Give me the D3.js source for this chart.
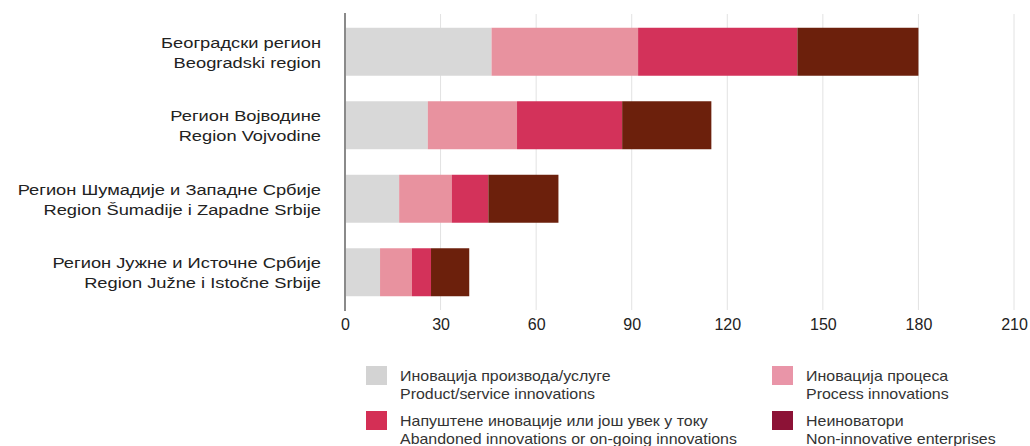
<!DOCTYPE html>
<html><head><meta charset="utf-8">
<script src="https://cdn.jsdelivr.net/npm/d3@7"></script>
<style>
body{margin:0;background:#fff;}
svg{display:block;font-family:"Liberation Sans",Arial,sans-serif;}
</style></head>
<body><svg id="c" width="1030" height="446"></svg>
<script>
const categoriesSr = ["Београдски регион","Регион Војводине","Регион Шумадије и Западне Србије","Регион Јужне и Источне Србије"];
const categoriesLat = ["Beogradski region","Region Vojvodine","Region Šumadije i Zapadne Srbije","Region Južne i Istočne Srbije"];
const productInnov = [46, 26, 17, 11];
const processInnov = [46, 28, 16.5, 10];
const abandonedInnov = [50, 33, 11.5, 6];
const nonInnov = [38, 28, 22, 12];
const tickValues = [0, 30, 60, 90, 120, 150, 180, 210];
const seriesNamesSr = ["Иновација производа/услуге","Иновација процеса","Напуштене иновације или још увек у току","Неиноватори"];
const seriesNamesEn = ["Product/service innovations","Process innovations","Abandoned innovations or on-going innovations","Non-innovative enterprises"];
const barColors = ["#d8d8d8","#e8929f","#d3325a","#6c200c"];
const legendColors = ["#d3d3d3","#e995a8","#d42f55","#8c1236"];

const svg = d3.select("#c");
const x = d3.scaleLinear().domain([0,210]).range([345,1014]);
const y = d3.scaleBand().domain(d3.range(categoriesSr.length)).range([15,309]).paddingInner(0.347).paddingOuter(0.1735);

// gridlines
svg.append("g").selectAll("line").data(tickValues.slice(1)).join("line")
  .attr("x1",d=>x(d)).attr("x2",d=>x(d)).attr("y1",14).attr("y2",310)
  .attr("stroke","#e2e2e2").attr("stroke-width",1);

const rows = categoriesSr.map((c,i)=>({i, product:productInnov[i], process:processInnov[i], abandoned:abandonedInnov[i], non:nonInnov[i]}));
const keys = ["product","process","abandoned","non"];
const stack = d3.stack().keys(keys)(rows);
svg.append("g").selectAll("g").data(stack).join("g")
  .attr("fill",(d,k)=>barColors[k])
  .selectAll("rect").data(d=>d).join("rect")
  .attr("x",d=>x(d[0])).attr("width",d=>x(d[1])-x(d[0]))
  .attr("y",d=>y(d.data.i)).attr("height",y.bandwidth());

// axis line at zero
svg.append("line").attr("x1",x(0)).attr("x2",x(0)).attr("y1",13).attr("y2",311)
  .attr("stroke","#8a8a8a").attr("stroke-width",2);

// x axis
const xAxis = svg.append("g").attr("transform","translate(0,310)")
  .call(d3.axisBottom(x).tickValues(tickValues).tickSize(0).tickPadding(9));
xAxis.select(".domain").remove();
xAxis.selectAll("text").attr("font-size",16).attr("fill","#222").attr("font-family","Liberation Sans, Arial, sans-serif");

// category labels (horizontally widened like the reference)
const labG = svg.append("g").attr("transform","translate(321,0) scale(1.22,1)");
const lab = labG.selectAll("text").data(categoriesSr).join("text")
  .attr("text-anchor","end").attr("font-size",15).attr("fill","#222");
lab.append("tspan").attr("x",0).attr("y",(d,i)=>y(i)+y.bandwidth()/2-4).text(d=>d);
lab.append("tspan").attr("x",0).attr("y",(d,i)=>y(i)+y.bandwidth()/2+16).text((d,i)=>categoriesLat[i]);

// legend
const legPos = [[366,366],[772,366],[366,411],[772,411]];
const lg = svg.append("g").selectAll("g").data(seriesNamesSr).join("g")
  .attr("transform",(d,i)=>`translate(${legPos[i][0]},${legPos[i][1]})`);
lg.append("rect").attr("width",21).attr("height",19).attr("fill",(d,i)=>legendColors[i]);
const lt = lg.append("g").attr("transform","translate(34,0) scale(1.14,1)")
  .append("text").attr("font-size",14).attr("fill","#333");
lt.append("tspan").attr("x",0).attr("y",15).text(d=>d);
lt.append("tspan").attr("x",0).attr("y",33).text((d,i)=>seriesNamesEn[i]);
</script></body></html>
